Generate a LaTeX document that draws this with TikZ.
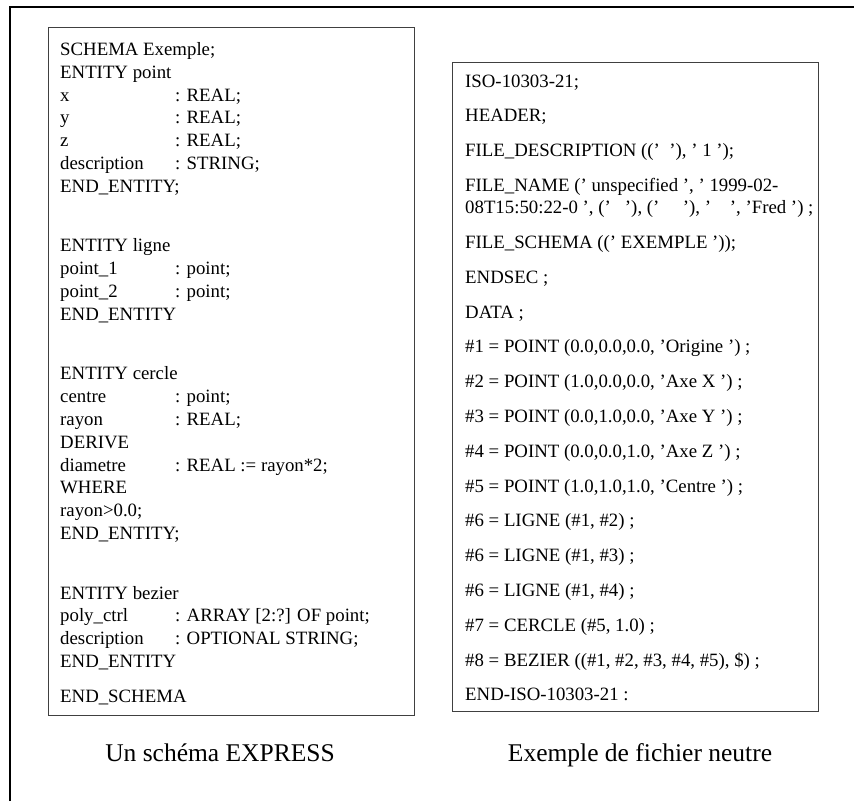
\documentclass[tikz,border=0pt]{standalone}
\usepackage{fontspec}
\setmainfont{Liberation Serif}
% tab stop for attribute names in the EXPRESS listing
\newcommand\fld[1]{\makebox[115pt][l]{#1}}
\begin{document}
\begin{tikzpicture}[x=1pt,y=-1pt,
  frameline/.style={line width=2pt, black},
  listbox/.style={draw=black!75, line width=1.2pt, inner sep=0pt, anchor=north west},
  listing/.style={anchor=base west, inner sep=0pt, font=\fontsize{18.8}{22.8}\selectfont},
  caption/.style={anchor=base, inner sep=0pt, font=\fontsize{25.5}{30}\selectfont}]
\useasboundingbox (0,0) rectangle (854,801);

% outer frame (top and left edges)
\coordinate (fbl) at (10,801);
\coordinate (ftl) at (10,7);
\coordinate (ftr) at (854,7);
\draw[frameline] (fbl) -- (ftl) -- (ftr);

% EXPRESS schema
\node[listbox, minimum width=366, minimum height=688] (schemabox) at (48,27) {};
\node[listing] (schematext) at (60,55.5) {%
\begin{tabular}[t]{@{}l@{}}
SCHEMA Exemple;\\
ENTITY point\\
\fld{x}: REAL;\\
\fld{y}: REAL;\\
\fld{z}: REAL;\\
\fld{description}: STRING;\\
END\_ENTITY;\\[36.8pt]
ENTITY ligne\\
\fld{point\_1}: point;\\
\fld{point\_2}: point;\\
END\_ENTITY\\[36.8pt]
ENTITY cercle\\
\fld{centre}: point;\\
\fld{rayon}: REAL;\\
DERIVE\\
\fld{diametre}: REAL := rayon*2;\\
WHERE\\
rayon>0.0;\\
END\_ENTITY;\\[36.8pt]
ENTITY bezier\\
\fld{poly\_ctrl}: ARRAY [2:?] OF point;\\
\fld{description}: OPTIONAL STRING;\\
END\_ENTITY\\[12.4pt]
END\_SCHEMA
\end{tabular}};

% neutral file
\node[listbox, minimum width=366, minimum height=649] (filebox) at (452,62) {};
\node[listing, font=\fontsize{18.8}{22.2}\selectfont] (filetext) at (465,87) {%
\begin{tabular}[t]{@{}l@{}}
ISO-10303-21;\\[12.6pt]
HEADER;\\[12.6pt]
FILE\_DESCRIPTION ((’~~’), ’ 1 ’);\\[12.6pt]
FILE\_NAME (’ unspecified ’, ’ 1999-02-\\
08T15:50:22-0 ’, (’~~~’), (’~~~~~’), ’~~~~’, ’Fred ’) ;\\[12.6pt]
FILE\_SCHEMA ((’ EXEMPLE ’));\\[12.6pt]
ENDSEC ;\\[12.6pt]
DATA ;\\[12.6pt]
\#1 = POINT (0.0,0.0,0.0, ’Origine ’) ;\\[12.6pt]
\#2 = POINT (1.0,0.0,0.0, ’Axe X ’) ;\\[12.6pt]
\#3 = POINT (0.0,1.0,0.0, ’Axe Y ’) ;\\[12.6pt]
\#4 = POINT (0.0,0.0,1.0, ’Axe Z ’) ;\\[12.6pt]
\#5 = POINT (1.0,1.0,1.0, ’Centre ’) ;\\[12.6pt]
\#6 = LIGNE (\#1, \#2) ;\\[12.6pt]
\#6 = LIGNE (\#1, \#3) ;\\[12.6pt]
\#6 = LIGNE (\#1, \#4) ;\\[12.6pt]
\#7 = CERCLE (\#5, 1.0) ;\\[12.6pt]
\#8 = BEZIER ((\#1, \#2, \#3, \#4, \#5), \$) ;\\[12.6pt]
END-ISO-10303-21 :
\end{tabular}};

% captions
\node[caption] (schemacap) at (220,761) {Un schéma EXPRESS};
\node[caption] (filecap) at (640,761) {Exemple de fichier neutre};
\end{tikzpicture}
\end{document}
